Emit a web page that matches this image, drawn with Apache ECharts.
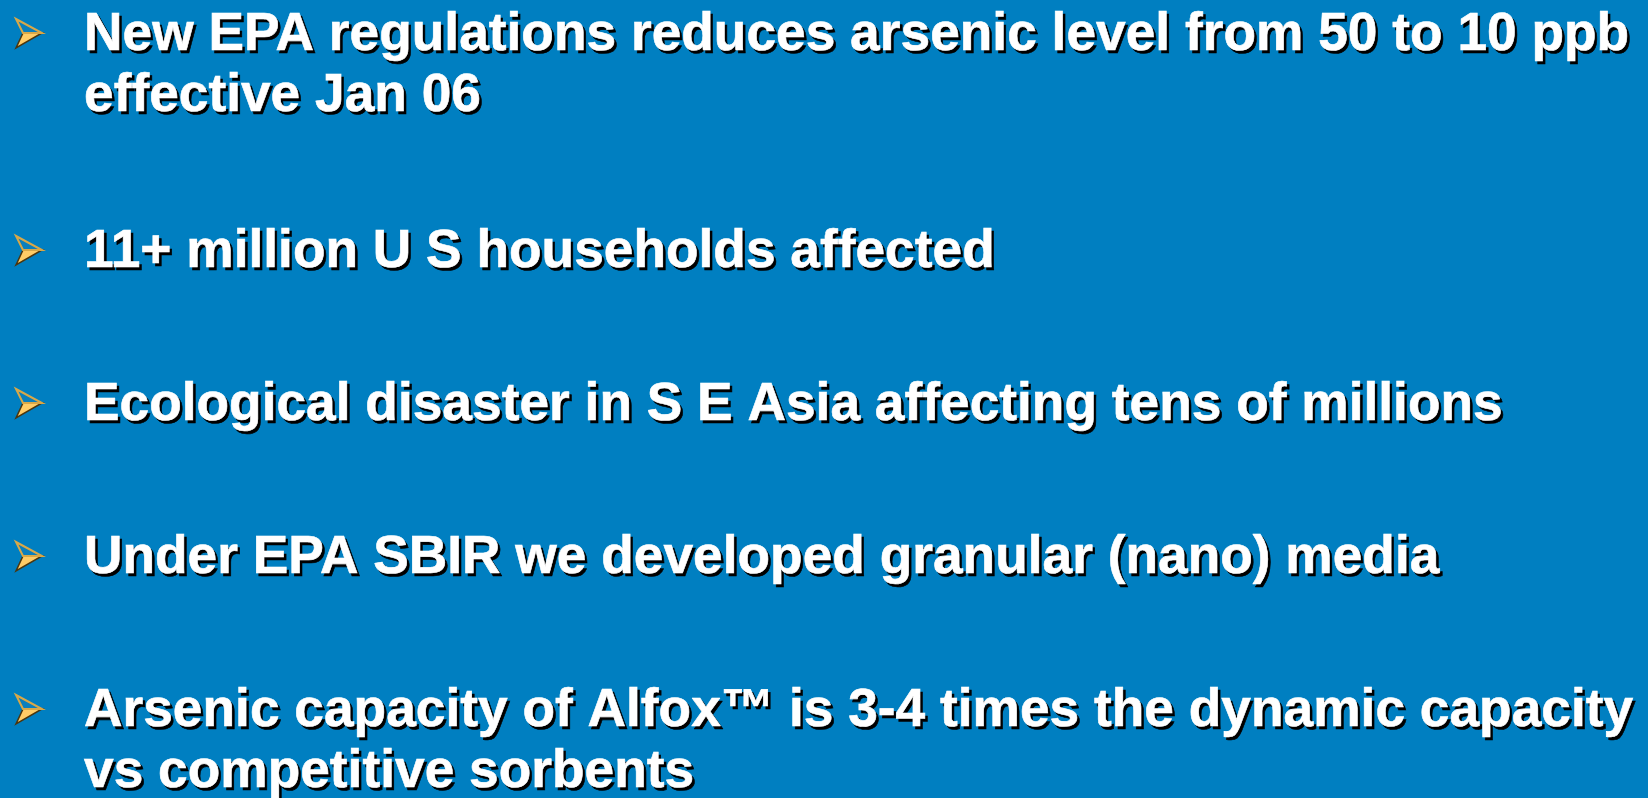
<!DOCTYPE html>
<html>
<head>
<meta charset="utf-8">
<script src="https://cdn.jsdelivr.net/npm/echarts@6/dist/echarts.min.js"></script>
<style>
html,body{margin:0;padding:0;background:#007FC1;}
#chart{width:1648px;height:798px;}
</style>
</head>
<body>
<div id="chart"></div>
<script>
// Bullet paragraphs (each one is a list of wrapped lines)
const bullet1 = ["New EPA regulations reduces arsenic level from 50 to 10 ppb", "effective Jan 06"];
const bullet2 = ["11+ million U S households affected"];
const bullet3 = ["Ecological disaster in S E Asia affecting tens of millions"];
const bullet4 = ["Under EPA SBIR we developed granular (nano) media"];
const bullet5 = ["Arsenic capacity of Alfox\u2122 is 3-4 times the dynamic capacity", "vs competitive sorbents"];
const bullets = [bullet1, bullet2, bullet3, bullet4, bullet5];
// baseline of the first line of each paragraph (px)
const firstBaselines = [50, 267, 420, 573, 726];

const FONT = 53.3;
const LINE_GAP = 61;
const TEXT_X = 84;
const SHADOW = 2.5;

const chart = echarts.init(document.getElementById('chart'));
const elements = [];
bullets.forEach((lines, i) => {
  const b = firstBaselines[i];
  // arrowhead bullet: filled lower half
  elements.push({
    type: 'polygon',
    shape: { points: [[23, b - 17], [42, b - 17], [16, b - 2]] },
    style: { fill: '#FFCC66', stroke: '#4a3610', lineWidth: 1.5 }
  });
  // outlined upper half
  elements.push({
    type: 'polygon',
    shape: { points: [[16, b - 31], [42, b - 17], [23, b - 17]] },
    style: { fill: '#0a7fbd', stroke: '#d8a848', lineWidth: 2 }
  });
  lines.forEach((txt, j) => {
    const y = b + j * LINE_GAP - 0.35 * FONT + 4;
    const font = 'bold ' + FONT + 'px "Liberation Sans", Arial, sans-serif';
    // drop shadow
    elements.push({
      type: 'text', x: TEXT_X + SHADOW, y: y + SHADOW, z: 1,
      style: { text: txt, fill: '#000000', stroke: '#000000', lineWidth: 0.6, font: font, verticalAlign: 'middle', align: 'left' }
    });
    elements.push({
      type: 'text', x: TEXT_X, y: y, z: 2,
      style: { text: txt, fill: '#ffffff', stroke: '#ffffff', lineWidth: 0.6, font: font, verticalAlign: 'middle', align: 'left' }
    });
  });
});

chart.setOption({
  backgroundColor: '#007FC1',
  animation: false,
  graphic: { elements: elements }
});
</script>
</body>
</html>
